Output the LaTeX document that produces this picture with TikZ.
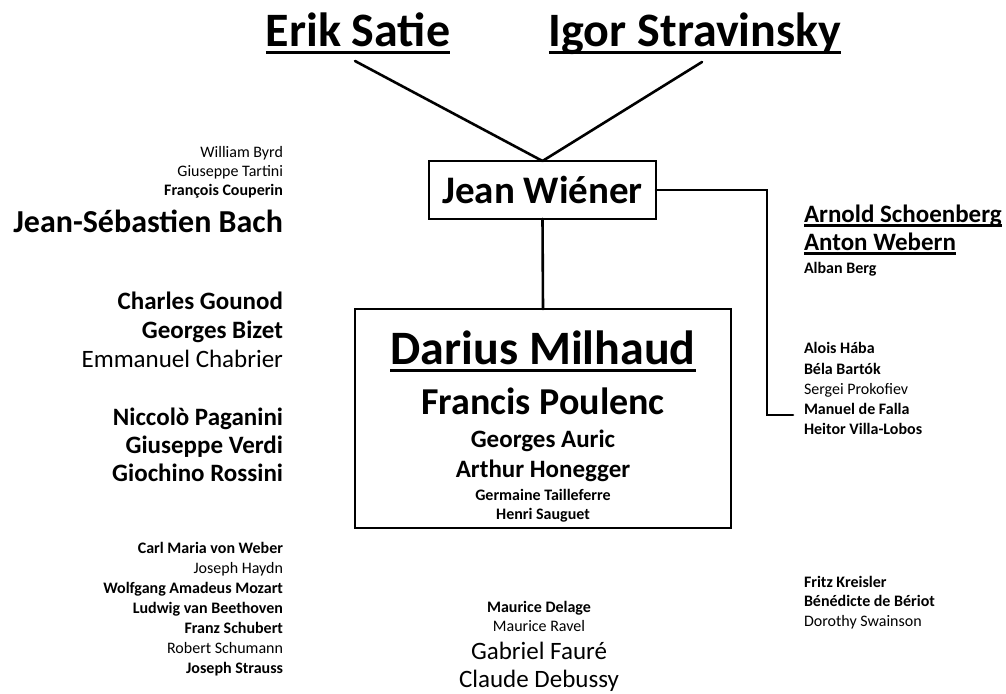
\documentclass[tikz,border=0pt]{standalone}
\usepackage{fontspec}
\setmainfont{Carlito}
\usepackage{tikz}
\usetikzlibrary{calc}

\begin{document}
\begin{tikzpicture}[x=1pt, y=-1pt, line cap=round,
    every node/.style={inner sep=0pt, outer sep=0pt},
    link/.style={line width=2.6pt},
    uline/.style={line width=#1, line cap=butt},
    uline/.default=2.2pt,
    frame/.style={draw, line width=2.6pt},
    reg/.style={font=\fontsize{#1}{#1}\selectfont},
    bld/.style={font=\fontsize{#1}{#1}\selectfont\bfseries},
    lft/.style={anchor=base east},
    rgt/.style={anchor=base west},
    mid/.style={anchor=base}]

  \useasboundingbox (0,0) rectangle (1006,693);

  % teachers on top
  \node[bld=48, mid] (satie) at (358,47) {Erik Satie};
  \node[bld=48, mid] (stravinsky) at (695,47) {Igor Stravinsky};
  \draw[uline=3pt] ([yshift=-6pt]satie.base west) -- ([yshift=-6pt]satie.base east);
  \draw[uline=3pt] ([yshift=-6pt]stravinsky.base west) -- ([yshift=-6pt]stravinsky.base east);

  \node[frame, bld=39, minimum width=227, minimum height=58] (wiener) at (542.5,190) {Jean Wiéner};
  \coordinate (satie-foot) at ([xshift=-3pt, yshift=-14pt]satie.base);
  \coordinate (stravinsky-foot) at ([xshift=7pt, yshift=-15pt]stravinsky.base);
  \draw[link] (satie-foot) -- (wiener.north);
  \draw[link] (stravinsky-foot) -- (wiener.north);

  % the group
  \node[frame, minimum width=376, minimum height=219] (six) at (543,418.5) {};
  \node[bld=48, mid] (milhaud) at (543,364) {Darius Milhaud};
  \draw[uline=3pt] ([yshift=-6pt]milhaud.base west) -- ([yshift=-6pt]milhaud.base east);
  \node[bld=38, mid] (poulenc) at (543,414) {Francis Poulenc};
  \node[bld=25, mid] (auric) at (543,447) {Georges Auric};
  \node[bld=25, mid] (honegger) at (543,477) {Arthur Honegger};
  \node[bld=16, mid] (tailleferre) at (543,500) {Germaine Tailleferre};
  \node[bld=16, mid] (sauguet) at (543,519) {Henri Sauguet};
  \draw[link] (wiener.south) -- (six.north);

  % left column
  \node[reg=16, lft] (byrd) at (283,157) {William Byrd};
  \node[reg=16, lft] (tartini) at (283,176) {Giuseppe Tartini};
  \node[bld=16, lft] (couperin) at (283,195) {François Couperin};
  \node[bld=32, lft] (bach) at (283,232) {Jean-Sébastien Bach};

  \node[bld=25, lft] (gounod) at (283,309) {Charles Gounod};
  \node[bld=25, lft] (bizet) at (283,338) {Georges Bizet};
  \node[reg=25, lft] (chabrier) at (283,367) {Emmanuel Chabrier};

  \node[bld=25, lft] (paganini) at (283,425) {Niccolò Paganini};
  \node[bld=25, lft] (verdi) at (283,453) {Giuseppe Verdi};
  \node[bld=25, lft] (rossini) at (283,481) {Giochino Rossini};

  \node[bld=16, lft] (weber) at (283,553) {Carl Maria von Weber};
  \node[reg=16, lft] (haydn) at (283,573) {Joseph Haydn};
  \node[bld=16, lft] (mozart) at (283,593) {Wolfgang Amadeus Mozart};
  \node[bld=16, lft] (beethoven) at (283,613) {Ludwig van Beethoven};
  \node[bld=16, lft] (schubert) at (283,633) {Franz Schubert};
  \node[reg=16, lft] (schumann) at (283,653) {Robert Schumann};
  \node[bld=16, lft] (strauss) at (283,673) {Joseph Strauss};

  % bottom middle
  \node[bld=16, mid] (delage) at (539,612) {Maurice Delage};
  \node[reg=16, mid] (ravel) at (539,631) {Maurice Ravel};
  \node[reg=25, mid] (faure) at (539,659) {Gabriel Fauré};
  \node[reg=25, mid] (debussy) at (539,687) {Claude Debussy};

  % right column
  \node[bld=25, rgt] (schoenberg) at (804,222) {Arnold Schoenberg};
  \node[bld=25, rgt] (webern) at (804,250) {Anton Webern};
  \draw[uline] ([yshift=-3.5pt]schoenberg.base west) -- ([yshift=-3.5pt]schoenberg.base east);
  \draw[uline] ([yshift=-3.5pt]webern.base west) -- ([yshift=-3.5pt]webern.base east);
  \node[bld=16, rgt] (berg) at (804,273) {Alban Berg};

  \node[bld=16, rgt] (haba) at (804,353) {Alois Hába};
  \node[bld=16, rgt] (bartok) at (804,374) {Béla Bartók};
  \node[reg=16, rgt] (prokofiev) at (804,394) {Sergei Prokofiev};
  \node[bld=16, rgt] (falla) at (804,414) {Manuel de Falla};
  \node[bld=16, rgt] (villalobos) at (804,434) {Heitor Villa-Lobos};
  \coordinate (falla-tip) at ([xshift=-11pt, yshift=-1pt]falla.base west);
  \draw[link] (wiener.east) -| ([xshift=-26pt]falla-tip) -- (falla-tip);

  \node[bld=16, rgt] (kreisler) at (804,587) {Fritz Kreisler};
  \node[bld=16, rgt] (beriot) at (804,606) {Bénédicte de Bériot};
  \node[reg=16, rgt] (swainson) at (804,626) {Dorothy Swainson};

\end{tikzpicture}
\end{document}
